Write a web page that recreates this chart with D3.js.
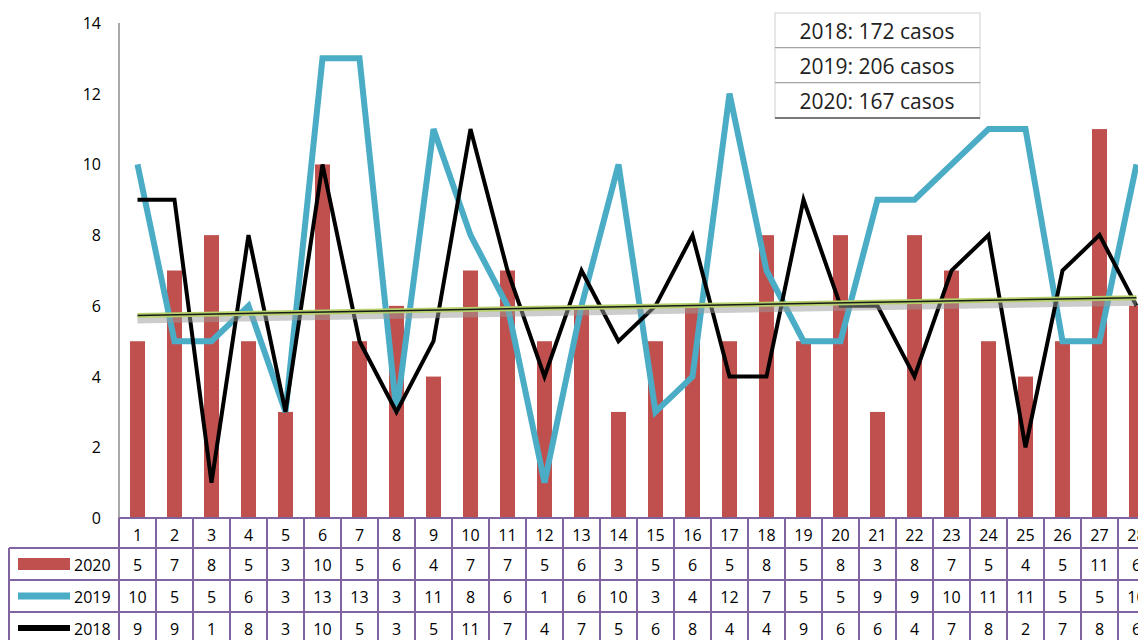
<!doctype html>
<html lang="es">
<head>
<meta charset="utf-8">
<title>Casos 2018-2020</title>
<script src="https://d3js.org/d3.v7.min.js"></script>
<style>
  body { margin: 0; background: #fff; }
  text { font-family: "Open Sans", "DejaVu Sans", sans-serif; fill: #000; }
  .tbl line { stroke: #8064A2; stroke-width: 2px; }
</style>
</head>
<body>
<svg width="1138" height="640"></svg>
<script>
// data
var days = d3.range(1, 29).map(String);
var cases2020 = [5,7,8,5,3,10,5,6,4,7,7,5,6,3,5,6,5,8,5,8,3,8,7,5,4,5,11,6];
var cases2019 = [10,5,5,6,3,13,13,3,11,8,6,1,6,10,3,4,12,7,5,5,9,9,10,11,11,5,5,10];
var cases2018 = [9,9,1,8,3,10,5,3,5,11,7,4,7,5,6,8,4,4,9,6,6,4,7,8,2,7,8,6];
var yTicks = [0, 2, 4, 6, 8, 10, 12, 14];
var trend = [5.73, 6.23];   // trend line value at day 1 and day 28
var totals = ["2018: 172 casos", "2019: 206 casos", "2020: 167 casos"];

var svg = d3.select("svg");

var x = d3.scaleBand().domain(days).range([119, 119 + 28 * 37]).padding(0);
var y = d3.scaleLinear().domain([0, 14]).range([518, 23]);

// y axis
svg.append("line")
  .attr("x1", 119).attr("x2", 119)
  .attr("y1", y(14)).attr("y2", y(0))
  .attr("stroke", "#8c8c8c").attr("stroke-width", 1.5);

svg.append("g").selectAll("text")
  .data(yTicks)
  .enter().append("text")
  .attr("x", 101)
  .attr("y", d => y(d) + 6)
  .attr("text-anchor", "end")
  .style("font-size", "16px")
  .text(d => d);

// bars 2020
var barW = 15;
var cx = (d, i) => x(days[i]) + x.bandwidth() / 2;
svg.append("g").selectAll("rect")
  .data(cases2020)
  .enter().append("rect")
  .attr("x", (d, i) => cx(d, i) - barW / 2)
  .attr("y", d => y(d))
  .attr("width", barW)
  .attr("height", d => y(0) - y(d))
  .attr("fill", "#C0504D");

// 2019 line
svg.append("path")
  .datum(cases2019)
  .attr("fill", "none")
  .attr("stroke", "#4BACC6")
  .attr("stroke-width", 6)
  .attr("d", d3.line().x(cx).y(d => y(d)));

// 2018 line
svg.append("path")
  .datum(cases2018)
  .attr("fill", "none")
  .attr("stroke", "#000")
  .attr("stroke-width", 4)
  .attr("d", d3.line().x(cx).y(d => y(d)));

// trend line (shadow, glow, core)
var tx1 = cx(0, 0), tx2 = cx(0, 27);
svg.append("line")
  .attr("x1", tx1).attr("x2", tx2)
  .attr("y1", y(trend[0]) + 5).attr("y2", y(trend[1]) + 5)
  .attr("stroke", "#999").attr("stroke-opacity", 0.5).attr("stroke-width", 6);
svg.append("line")
  .attr("x1", tx1).attr("x2", tx2)
  .attr("y1", y(trend[0])).attr("y2", y(trend[1]))
  .attr("stroke", "#B5D16B").attr("stroke-width", 5);
svg.append("line")
  .attr("x1", tx1).attr("x2", tx2)
  .attr("y1", y(trend[0])).attr("y2", y(trend[1]))
  .attr("stroke", "#1a1a1a").attr("stroke-width", 1.5);

// data table
var rowH = 32;
var tableTop = 518;
var rows = [
  {name: "2020", vals: cases2020, color: "#C0504D", h: 12},
  {name: "2019", vals: cases2019, color: "#4BACC6", h: 7},
  {name: "2018", vals: cases2018, color: "#000", h: 6}
];
var tbl = svg.append("g").attr("class", "tbl");

// category row
tbl.selectAll("text.cat")
  .data(days)
  .enter().append("text")
  .attr("class", "cat")
  .attr("x", d => x(d) + x.bandwidth() / 2)
  .attr("y", tableTop + 23)
  .attr("text-anchor", "middle")
  .style("font-size", "16px")
  .text(d => d);

rows.forEach(function(r, k) {
  var ry = tableTop + 30 + k * rowH;
  tbl.selectAll("text.v" + k)
    .data(r.vals)
    .enter().append("text")
    .attr("class", "v" + k)
    .attr("x", (d, i) => x(days[i]) + x.bandwidth() / 2)
    .attr("y", ry + 23)
    .attr("text-anchor", "middle")
    .style("font-size", "16px")
    .text(d => d);
  tbl.append("rect")
    .attr("x", 18).attr("y", ry + 16 - r.h / 2)
    .attr("width", 52).attr("height", r.h)
    .attr("fill", r.color);
  tbl.append("text")
    .attr("x", 74).attr("y", ry + 23)
    .style("font-size", "16px")
    .text(r.name);
});

// grid lines of the table
var xEnd = 119 + 28 * 37;
var hLines = [
  {y: tableTop, x1: 119},
  {y: tableTop + 30, x1: 9},
  {y: tableTop + 30 + rowH, x1: 9},
  {y: tableTop + 30 + 2 * rowH, x1: 9},
  {y: tableTop + 30 + 3 * rowH, x1: 9}
];
hLines.forEach(h => tbl.append("line")
  .attr("x1", h.x1).attr("x2", xEnd).attr("y1", h.y).attr("y2", h.y));
tbl.append("line").attr("x1", 9).attr("x2", 9).attr("y1", tableTop + 30).attr("y2", 640);
d3.range(29).forEach(i => tbl.append("line")
  .attr("x1", 119 + i * 37).attr("x2", 119 + i * 37)
  .attr("y1", tableTop).attr("y2", 640));

// totals boxes
var box = svg.append("g");
totals.forEach(function(t, i) {
  var by = 13 + i * 35;
  box.append("rect")
    .attr("x", 775).attr("y", by)
    .attr("width", 205).attr("height", 35)
    .attr("fill", "#fff")
    .attr("stroke", "#cfcfcf").attr("stroke-width", 1);
  box.append("line")
    .attr("x1", 775).attr("x2", 980)
    .attr("y1", by + 35).attr("y2", by + 35)
    .attr("stroke", "#555").attr("stroke-width", 1.5);
  box.append("text")
    .attr("x", 877).attr("y", by + 26)
    .attr("text-anchor", "middle")
    .style("font-size", "21px")
    .style("fill", "#222")
    .text(t);
});
</script>
</body>
</html>
